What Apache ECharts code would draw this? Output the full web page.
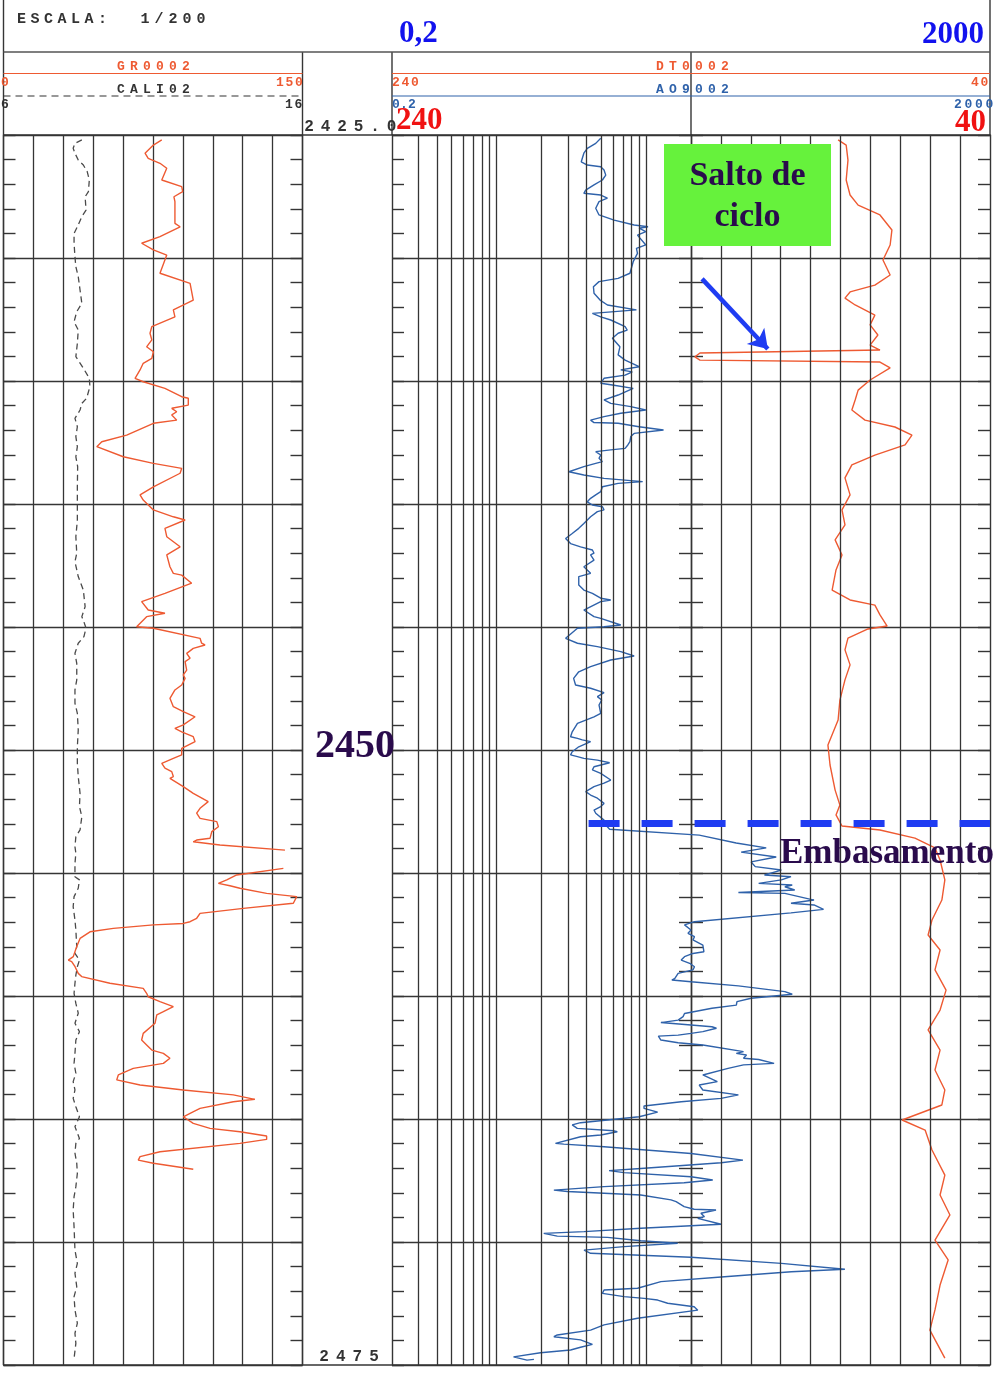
<!DOCTYPE html>
<html>
<head>
<meta charset="utf-8">
<title>Perfil de pozo</title>
<script src="https://cdn.jsdelivr.net/npm/echarts@6/dist/echarts.min.js"></script>
<style>
  html, body { margin: 0; padding: 0; background: #ffffff; }
  #chart { width: 1000px; height: 1376px; }
</style>
</head>
<body>
<div id="chart"></div>
<script>
// ---- Depth window (m) ----
const depthTop = 2425;
const depthBase = 2475;

// ---- Curve scales ----
const grScale = [0, 150];       // GR, API
const caliScale = [6, 16];      // CALI, in
const resScale = [0.2, 2000];   // AO90, ohm.m (log)
const dtScale = [240, 40];      // DT, us/ft

// ---- Curves: [depth m, reading] ----
const grLog = [
  [2425.20,79.4],[2425.41,75.2],[2425.74,71.0],[2425.95,72.6],[2426.15,78.5],[2426.35,81.9],[2426.83,79.4],[2427.10,89.4],
  [2427.30,89.9],[2427.51,85.5],[2427.71,86.0],[2428.59,86.0],[2428.73,88.6],[2429.13,78.5],[2429.40,69.3],[2429.67,75.2],
  [2429.88,81.9],[2430.62,78.5],[2431.03,93.6],[2431.71,95.2],[2432.11,85.2],[2432.39,86.0],[2432.79,74.4],[2433.06,73.5],
  [2433.33,74.4],[2433.61,71.8],[2433.81,75.2],[2434.08,74.4],[2434.28,70.1],[2434.55,68.5],[2434.89,66.0],[2435.03,70.1],
  [2435.30,81.0],[2435.64,89.4],[2435.70,92.7],[2435.98,92.7],[2436.11,84.4],[2436.25,86.9],[2436.38,84.4],[2436.59,86.9],
  [2436.72,75.2],[2437.20,61.8],[2437.47,49.3],[2437.67,46.8],[2438.08,60.1],[2438.35,75.2],[2438.55,89.4],[2438.75,88.6],
  [2439.30,75.2],[2439.63,68.5],[2439.84,70.1],[2440.24,75.2],[2440.52,85.2],[2440.65,91.1],[2440.99,81.0],[2441.33,81.9],
  [2441.74,88.6],[2442.07,81.9],[2442.55,83.5],[2442.82,85.2],[2442.89,89.4],[2443.22,94.4],[2443.63,81.0],[2443.97,69.3],
  [2444.31,72.6],[2444.44,81.0],[2444.58,71.8],[2444.99,66.8],[2445.05,75.2],[2445.46,98.6],[2445.66,99.4],[2445.73,101.1],
  [2445.87,95.2],[2446.07,91.9],[2446.27,93.6],[2446.41,91.1],[2446.75,91.9],[2446.95,90.2],[2447.09,91.1],[2447.36,89.4],
  [2447.56,86.0],[2447.90,83.5],[2448.24,85.2],[2448.44,90.2],[2448.65,96.1],[2448.98,90.2],[2449.12,86.0],[2449.26,89.4],
  [2449.46,95.2],[2449.66,96.1],[2449.93,89.4],[2450.20,89.4],[2450.34,85.2],[2450.54,79.4],[2450.74,81.0],[2450.88,84.4],
  [2451.08,85.2],[2451.15,83.5],[2451.49,90.2],[2451.76,95.2],[2452.10,102.7],[2452.37,98.6],[2452.57,96.9],[2452.78,98.6],
  [2452.91,107.0],[2453.12,107.8],[2453.32,104.5],[2453.59,103.6],[2453.66,96.9],[2453.73,95.2],[2453.86,108.6],[2454.07,141.2],
  null,
  [2454.81,140.4],[2455.08,117.0],[2455.28,112.0],[2455.42,107.8],[2455.52,113.6],[2455.62,118.6],[2455.83,132.0],[2455.96,147.1],
  [2456.23,145.4],[2456.44,120.3],[2456.64,98.6],[2456.84,96.9],[2456.98,93.6],[2457.05,90.2],[2457.11,75.2],[2457.25,55.1],
  [2457.39,43.4],[2457.66,38.4],[2458.00,36.7],[2458.40,35.0],[2458.54,32.5],[2458.60,34.2],[2458.81,35.9],[2459.08,37.5],
  [2459.21,39.2],[2459.48,53.4],[2459.69,70.1],[2459.89,71.8],[2460.03,72.6],[2460.23,78.5],[2460.43,85.2],[2460.64,80.2],
  [2460.77,76.9],[2461.11,76.0],[2461.52,70.1],[2461.79,69.3],[2461.99,71.8],[2462.20,74.4],[2462.33,80.2],[2462.53,83.5],
  [2462.74,80.2],[2462.94,65.1],[2463.21,57.6],[2463.41,56.8],[2463.62,68.5],[2463.82,90.2],[2464.02,115.3],[2464.20,126.1],
  [2464.30,115.3],[2464.57,98.6],[2464.77,93.6],[2464.91,90.2],[2465.18,95.2],[2465.38,103.6],[2465.52,118.6],[2465.69,132.0],
  [2465.83,132.0],[2465.99,118.6],[2466.33,78.5],[2466.53,68.5],[2466.67,67.6],[2466.80,75.2],[2467.04,95.2]
];

const caliLog = [
  [2425.20,8.62],[2425.34,8.39],[2425.54,8.33],[2425.74,8.39],[2426.02,8.50],[2426.22,8.67],[2426.49,8.80],[2426.83,8.87],
  [2427.30,8.84],[2427.51,8.73],[2428.05,8.76],[2428.32,8.62],[2428.73,8.47],[2429.00,8.36],[2429.40,8.36],[2429.95,8.39],
  [2430.35,8.42],[2430.76,8.50],[2431.30,8.56],[2431.84,8.62],[2432.18,8.45],[2432.59,8.36],[2432.93,8.50],[2433.47,8.47],
  [2434.01,8.42],[2434.48,8.67],[2434.89,8.87],[2435.23,8.89],[2435.70,8.78],[2435.91,8.62],[2436.18,8.56],[2436.52,8.39],
  [2436.86,8.47],[2437.26,8.42],[2437.67,8.47],[2438.08,8.42],[2438.48,8.48],[2439.30,8.47],[2439.97,8.47],[2440.65,8.47],
  [2441.33,8.42],[2442.00,8.45],[2442.35,8.39],[2442.95,8.50],[2443.50,8.67],[2444.17,8.73],[2444.58,8.62],[2444.72,8.67],
  [2445.05,8.76],[2445.39,8.69],[2445.66,8.50],[2446.07,8.39],[2446.48,8.45],[2447.15,8.45],[2447.56,8.39],[2448.10,8.39],
  [2448.51,8.47],[2449.19,8.50],[2449.87,8.47],[2450.54,8.47],[2451.08,8.50],[2451.76,8.56],[2452.30,8.54],[2452.71,8.62],
  [2453.25,8.56],[2453.52,8.42],[2453.93,8.39],[2454.20,8.42],[2454.61,8.39],[2455.15,8.39],[2455.28,8.54],[2455.62,8.50],
  [2455.96,8.36],[2456.37,8.33],[2456.91,8.39],[2457.32,8.42],[2458.00,8.45],[2458.27,8.39],[2458.54,8.54],[2458.81,8.47],
  [2459.15,8.42],[2459.48,8.39],[2459.89,8.36],[2460.30,8.42],[2460.70,8.50],[2461.11,8.39],[2461.45,8.54],[2461.79,8.42],
  [2462.33,8.39],[2462.74,8.36],[2463.14,8.42],[2463.48,8.33],[2463.82,8.39],[2464.16,8.33],[2464.50,8.42],[2464.91,8.54],
  [2465.31,8.39],[2465.79,8.54],[2465.99,8.42],[2466.39,8.39],[2466.80,8.45],[2467.21,8.47],[2467.75,8.42],[2468.16,8.36],
  [2468.70,8.33],[2469.38,8.36],[2470.33,8.39],[2470.87,8.47],[2471.27,8.39],[2471.82,8.45],[2472.22,8.36],[2472.76,8.39],
  [2473.30,8.47],[2473.71,8.39],[2474.12,8.42],[2474.73,8.36]
];

const ao90Log = [
  [2425.13,4.98],[2425.34,4.61],[2425.54,4.05],[2425.74,3.84],[2426.09,3.69],[2426.22,4.05],[2426.29,4.98],[2426.42,5.24],
  [2426.63,5.38],[2426.83,5.11],[2427.03,4.49],[2427.24,3.95],[2427.37,3.84],[2427.44,4.98],[2427.57,5.52],[2427.71,4.85],
  [2427.98,4.61],[2428.25,4.85],[2428.46,6.12],[2428.66,8.33],[2428.73,10.32],[2428.79,8.99],[2428.93,9.97],[2429.07,8.77],
  [2429.47,9.97],[2429.61,8.63],[2429.81,8.77],[2430.15,8.21],[2430.62,7.81],[2430.83,6.51],[2430.96,4.85],[2431.17,4.45],
  [2431.43,4.49],[2431.71,4.93],[2431.91,5.52],[2432.11,8.63],[2432.25,4.38],[2432.39,4.98],[2432.52,5.81],[2432.79,7.25],
  [2432.93,7.49],[2433.06,6.51],[2433.26,5.96],[2433.61,6.69],[2433.94,6.51],[2434.15,7.25],[2434.42,8.99],[2434.55,6.78],
  [2434.63,8.10],[2434.76,7.25],[2434.89,5.24],[2435.09,4.98],[2435.16,5.96],[2435.30,8.21],[2435.57,6.51],[2435.77,5.24],
  [2435.91,5.81],[2436.04,7.91],[2436.18,9.97],[2436.31,6.78],[2436.45,5.24],[2436.59,4.26],[2436.69,4.49],[2436.72,6.51],
  [2436.86,8.99],[2436.99,13.1],[2437.13,8.33],[2437.26,7.91],[2437.46,7.81],[2437.60,7.56],[2437.74,7.25],[2437.80,5.81],
  [2437.87,4.61],[2438.01,4.98],[2438.14,4.85],[2438.28,5.11],[2438.35,4.61],[2438.48,3.84],[2438.69,3.05],[2438.82,3.84],
  [2438.96,5.24],[2439.09,9.50],[2439.16,6.51],[2439.30,5.11],[2439.50,4.98],[2439.63,4.61],[2439.77,4.26],[2439.91,4.05],
  [2440.04,4.38],[2440.11,5.11],[2440.24,5.24],[2440.31,4.73],[2440.52,4.26],[2440.79,3.84],[2440.99,3.55],[2441.20,3.21],
  [2441.40,2.90],[2441.61,3.13],[2441.74,3.65],[2441.87,4.38],[2442.00,4.49],[2442.07,4.26],[2442.28,4.49],[2442.55,3.84],
  [2442.82,4.26],[2442.95,3.55],[2443.29,3.55],[2443.50,3.84],[2443.63,4.38],[2443.83,4.98],[2443.90,5.81],[2443.97,4.98],
  [2444.31,3.84],[2444.38,3.75],[2444.58,4.49],[2444.65,4.98],[2444.92,6.78],[2444.99,5.24],[2445.05,3.48],[2445.46,2.90],
  [2445.66,3.48],[2445.80,4.73],[2446.00,6.78],[2446.18,8.33],[2446.34,5.81],[2446.61,4.26],[2446.82,3.55],[2447.09,3.28],
  [2447.36,3.38],[2447.49,4.26],[2447.67,5.24],[2447.83,4.73],[2447.97,5.05],[2448.17,4.85],[2448.51,4.98],[2448.65,4.49],
  [2448.92,3.48],[2449.26,3.21],[2449.46,3.13],[2449.53,3.48],[2449.59,3.75],[2449.66,4.26],[2449.87,3.55],[2450.07,3.21],
  [2450.20,3.13],[2450.27,3.48],[2450.34,3.84],[2450.41,4.73],[2450.52,5.71],[2450.68,4.49],[2450.81,4.38],[2450.95,4.98],
  [2451.22,5.81],[2451.35,5.24],[2451.49,4.49],[2451.69,3.95],[2451.83,4.26],[2451.96,4.73],[2452.17,5.24],[2452.30,4.98],
  [2452.44,4.49],[2452.57,4.61],[2452.85,5.24],[2453.05,5.38],[2453.22,5.71],[2453.46,22.7],[2453.78,40.1],[2453.98,63.7],
  [2454.15,43.3],[2454.35,74.3],[2454.55,50.5],[2454.74,53.8],[2454.88,80.4],[2455.08,62.0],[2455.15,93.3],[2455.28,80.4],
  [2455.42,56.7],[2455.49,95.1],[2455.56,84.9],[2455.69,98.8],[2455.79,41.5],[2455.83,84.9],[2456.10,133],[2456.23,93.3],
  [2456.30,133],[2456.48,154],[2456.62,93.3],[2456.98,21.1],[2457.11,18.1],[2457.32,20.0],[2457.45,19.1],[2457.59,21.1],
  [2457.72,20.6],[2457.93,24.0],[2458.20,24.4],[2458.27,20.6],[2458.40,18.1],[2458.54,17.2],[2458.67,19.6],[2458.81,21.1],
  [2458.94,20.6],[2459.08,16.4],[2459.28,15.6],[2459.35,14.9],[2459.42,20.0],[2459.59,41.5],[2459.82,84.9],[2459.93,95.1],
  [2460.09,50.5],[2460.23,40.6],[2460.37,40.2],[2460.50,27.6],[2460.71,18.1],[2460.84,17.7],[2460.98,16.4],[2461.08,12.58],
  [2461.25,27.6],[2461.31,29.6],[2461.45,24.0],[2461.52,20.0],[2461.59,16.4],[2461.63,12.1],[2461.79,12.58],[2461.90,16.4],
  [2461.99,24.0],[2462.26,44.9],[2462.33,40.2],[2462.40,47.0],[2462.53,44.9],[2462.58,56.7],[2462.74,71.9],[2462.80,44.9],
  [2462.94,35.4],[2463.21,24.0],[2463.48,30.0],[2463.62,22.7],[2463.82,24.0],[2464.02,41.5],[2464.16,31.8],[2464.30,17.2],
  [2464.47,9.70],[2464.57,9.70],[2464.72,11.96],[2464.91,9.00],[2465.04,5.52],[2465.15,3.65],[2465.24,3.21],[2465.38,3.47],
  [2465.48,6.11],[2465.52,6.43],[2465.65,4.98],[2465.72,3.65],[2465.99,2.48],[2466.02,2.82],[2466.13,5.24],[2466.40,20.0],
  [2466.67,44.5],[2466.78,31.8],[2467.01,9.23],[2467.10,5.66],[2467.18,7.13],[2467.35,20.0],[2467.48,27.96],[2467.59,18.0],
  [2467.75,5.24],[2467.89,2.42],[2467.95,2.98],[2468.09,9.23],[2468.29,14.7],[2468.36,15.9],[2468.56,18.0],[2468.67,21.0],
  [2468.70,29.4],[2468.83,23.3],[2468.97,24.6],[2469.04,22.2],[2469.28,31.8],[2469.44,9.23],[2469.58,3.85],[2469.65,2.07],
  [2469.76,2.55],[2469.81,5.52],[2469.95,9.23],[2470.05,16.3],[2470.19,7.13],[2470.33,3.85],[2470.46,4.26],[2470.62,20.0],
  [2470.87,80.4],[2471.11,214],[2471.21,93.8],[2471.41,33.5],[2471.61,12.58],[2471.88,8.78],[2471.95,5.24],[2472.09,5.11],
  [2472.22,7.13],[2472.29,9.72],[2472.36,11.96],[2472.49,13.96],[2472.63,21.0],[2472.77,22.2],[2473.10,8.78],[2473.37,5.24],
  [2473.58,4.26],[2473.78,2.55],[2473.85,2.42],[2473.98,3.65],[2474.16,4.38],[2474.28,3.65],[2474.39,3.13],[2474.50,1.97],
  [2474.67,1.30],[2474.80,1.60],[2474.77,1.78]
];

const dtLog = [
  [2425.20,90.8],[2425.41,88.1],[2426.02,87.5],[2426.83,88.1],[2427.44,86.8],[2427.85,84.1],[2428.25,76.8],[2428.86,72.8],
  [2429.47,73.4],[2430.08,75.8],[2430.69,73.4],[2431.10,78.5],[2431.38,86.8],[2431.63,88.5],[2431.91,85.1],[2432.32,78.5],
  [2432.72,80.1],[2433.13,77.5],[2433.54,80.1],[2433.74,76.8],[2433.86,137.0],[2434.02,138.7],[2434.15,137.0],[2434.23,76.8],
  [2434.47,73.4],[2434.96,80.1],[2435.37,84.1],[2435.77,85.1],[2436.18,86.2],[2436.59,81.8],[2436.87,71.8],[2437.20,66.1],
  [2437.60,68.4],[2438.01,78.5],[2438.41,86.2],[2438.94,88.5],[2439.63,86.8],[2440.24,89.5],[2440.85,88.5],[2441.46,91.8],
  [2442.07,89.5],[2442.68,91.5],[2443.50,92.8],[2443.90,86.8],[2444.11,78.5],[2444.51,76.8],[2444.96,74.4],[2445.08,80.8],
  [2445.45,87.5],[2445.93,88.5],[2446.54,86.8],[2447.15,88.5],[2447.97,90.2],[2448.78,90.8],[2449.80,94.2],[2450.61,93.5],
  [2451.63,91.8],[2452.24,90.2],[2452.64,91.5],[2453.09,89.5],[2453.25,76.8],[2453.58,65.1],[2453.98,58.4],[2454.47,56.7],
  [2455.28,55.1],[2456.10,56.1],[2456.91,59.4],[2457.52,60.7],[2458.13,56.7],[2458.94,58.4],[2459.76,54.7],[2460.57,56.7],
  [2461.38,60.7],[2462.20,56.7],[2463.01,58.4],[2463.82,55.1],[2464.43,56.1],[2465.04,69.4],[2465.45,61.7],[2466.26,59.4],
  [2467.28,55.1],[2468.09,56.7],[2468.90,53.4],[2469.92,58.4],[2470.73,54.0],[2471.75,56.7],[2472.76,58.4],[2473.58,60.1],
  [2474.72,55.1]
];

// ---- Chart furniture ----
const resGridValues = [0.3, 0.4, 0.5, 0.6, 0.7, 0.8, 0.9, 1, 2, 3, 4, 5, 6, 7, 8, 9, 10];
const dtGridValues = [130, 120, 110, 100, 90, 80, 70, 60, 50];
const basementDepth = 2452.97;
const basementFrom = 4.13;
const cycleArrow = [[136.3, 2430.85], [114.3, 2433.70]];

// ---- Page geometry (px) ----
const X0 = 3.5, X1 = 302.5, X2 = 392, X3 = 691, X4 = 990;
const Y_TOP = 135, Y_BOT = 1365;

const GRID_COLOR = '#353535';
const RED = '#ee5a32';
const BLUE = '#2f62aa';
const STENCIL = 'bold 13px "Liberation Mono", "DejaVu Sans Mono", monospace';

const toXY = arr => arr.map(p => p === null ? ['-', '-'] : [p[1], p[0]]);

function spaced(str, x, y, pitch, fill, font) {
  const out = [];
  for (let i = 0; i < str.length; i++) {
    if (str[i] === ' ') continue;
    out.push({ type: 'text', x: x + i * pitch, y: y, z: 50,
      style: { text: str[i], fill: fill, font: font || STENCIL, align: 'center', verticalAlign: 'middle' } });
  }
  return out;
}
function hline(x1, x2, y, stroke, w, dash) {
  return { type: 'line', z: 40, shape: { x1: x1, y1: y, x2: x2, y2: y },
    style: { stroke: stroke, lineWidth: w, lineDash: dash || null } };
}
function vline(x, y1, y2, stroke, w) {
  return { type: 'line', z: 40, shape: { x1: x, y1: y1, x2: x, y2: y2 }, style: { stroke: stroke, lineWidth: w } };
}

const tickStyle = { color: GRID_COLOR, width: 1.4 };
function depthAxis(gridIndex, opts) {
  return Object.assign({
    type: 'value', gridIndex: gridIndex, min: depthTop, max: depthBase, inverse: true, interval: 5,
    axisLabel: { show: false },
    axisLine: { show: true, lineStyle: { color: GRID_COLOR, width: 1.4 } },
    axisTick: { show: true, inside: true, length: 12, lineStyle: tickStyle },
    minorTick: { show: true, splitNumber: 5, length: 12, lineStyle: tickStyle },
    splitLine: { show: false }
  }, opts);
}

const plainLine = (color, width, type) => ({ color: color, width: width, type: type || 'solid' });

const graphics = [].concat(
  // header frame
  [
    vline(X0, 0, Y_TOP, GRID_COLOR, 1.4),
    vline(X4, 0, Y_TOP, GRID_COLOR, 1.4),
    vline(X1, 52, Y_TOP, GRID_COLOR, 1.4),
    vline(X2, 52, Y_TOP, GRID_COLOR, 1.4),
    vline(X3, 52, Y_TOP, GRID_COLOR, 1.4),
    hline(X0, X4, 52, '#555', 1.4),
    hline(X0, X4, Y_TOP, GRID_COLOR, 1.6),
    hline(X0, X4, Y_BOT, GRID_COLOR, 1.6),
    hline(X0, X1, 73.5, RED, 1.2),
    hline(X0, X1, 96, '#333', 1.2, [7, 5]),
    hline(X2, X4, 73.5, RED, 1.2),
    hline(X2, X4, 96, BLUE, 1.2)
  ],
  spaced('ESCALA:', 21.5, 19, 13.5, '#333', 'bold 15px "Liberation Mono", monospace'),
  spaced('1/200', 145, 19, 14, '#333', 'bold 15px "Liberation Mono", monospace'),
  spaced('GR0002', 121, 67, 13, RED),
  spaced('CALI02', 121, 89.5, 13, '#333'),
  spaced('0', 5, 83, 10, RED),
  spaced('150', 280, 83, 9.5, RED),
  spaced('6', 5, 105, 10, '#333'),
  spaced('16', 289, 105, 9.5, '#333'),
  spaced('DT0002', 660, 67, 13, RED),
  spaced('AO9002', 660, 89.5, 13, BLUE),
  spaced('240', 396, 83, 9.5, RED),
  spaced('40', 975, 83, 9.5, RED),
  spaced('0.2', 396, 105, 8, BLUE),
  spaced('2000', 958, 105, 10.5, BLUE),
  spaced('2425.0', 309, 127, 16.5, '#333', 'bold 16px "Liberation Mono", monospace'),
  spaced('2475', 324, 1356.5, 16.7, '#333', 'bold 16px "Liberation Mono", monospace'),
  [
    { type: 'text', x: 399, y: 34, z: 60, style: { text: '0,2', fill: '#1212ee', font: 'bold 31px "Liberation Serif", serif', align: 'left', verticalAlign: 'middle' } },
    { type: 'text', x: 984, y: 35, z: 60, style: { text: '2000', fill: '#1212ee', font: 'bold 31px "Liberation Serif", serif', align: 'right', verticalAlign: 'middle' } },
    { type: 'text', x: 396, y: 121, z: 60, style: { text: '240', fill: '#f01212', font: 'bold 31px "Liberation Serif", serif', align: 'left', verticalAlign: 'middle' } },
    { type: 'text', x: 986, y: 123, z: 60, style: { text: '40', fill: '#f01212', font: 'bold 31px "Liberation Serif", serif', align: 'right', verticalAlign: 'middle' } },
    { type: 'text', x: 355, y: 747, z: 60, style: { text: '2450', fill: '#2a0b4c', font: 'bold 40px "Liberation Serif", serif', align: 'center', verticalAlign: 'middle' } },
    { type: 'rect', z: 55, shape: { x: 664, y: 144, width: 167, height: 102 }, style: { fill: '#66f23c' } },
    { type: 'text', x: 747.5, y: 176, z: 60, style: { text: 'Salto de', fill: '#2a0b4c', font: 'bold 34px "Liberation Serif", serif', align: 'center', verticalAlign: 'middle' } },
    { type: 'text', x: 747.5, y: 217, z: 60, style: { text: 'ciclo', fill: '#2a0b4c', font: 'bold 34px "Liberation Serif", serif', align: 'center', verticalAlign: 'middle' } },
    { type: 'text', x: 780, y: 854, z: 60, style: { text: 'Embasamento', fill: '#2a0b4c', font: 'bold 35px "Liberation Serif", serif', align: 'left', verticalAlign: 'middle' } }
  ]
);

const option = {
  animation: false,
  backgroundColor: '#ffffff',
  grid: [
    { left: X0, top: Y_TOP, width: X1 - X0, height: Y_BOT - Y_TOP },   // GR / CALI track
    { left: X2, top: Y_TOP, width: X4 - X2, height: Y_BOT - Y_TOP },   // resistivity + sonic
    { left: X2, top: Y_TOP, width: X3 - X2, height: Y_BOT - Y_TOP },   // track 2 frame
    { left: X3, top: Y_TOP, width: X4 - X3, height: Y_BOT - Y_TOP }    // track 3 frame
  ],
  xAxis: [
    { type: 'value', gridIndex: 0, min: grScale[0], max: grScale[1], interval: 15,
      axisLine: { show: false }, axisTick: { show: false }, axisLabel: { show: false },
      splitLine: { show: true, lineStyle: { color: GRID_COLOR, width: 1.3 } } },
    { type: 'value', gridIndex: 0, min: caliScale[0], max: caliScale[1], show: false },
    { type: 'log', gridIndex: 1, logBase: 10, min: resScale[0], max: resScale[1], show: false },
    { type: 'value', gridIndex: 1, min: dtScale[1], max: dtScale[0], inverse: true, show: false },
    { type: 'value', gridIndex: 2, show: false },
    { type: 'value', gridIndex: 3, show: false }
  ],
  yAxis: [
    depthAxis(0, { splitLine: { show: true, lineStyle: { color: GRID_COLOR, width: 1.4 } } }),
    depthAxis(0, { position: 'right' }),
    depthAxis(1, { axisLine: { show: false }, axisTick: { show: false }, minorTick: { show: false },
      splitLine: { show: true, lineStyle: { color: GRID_COLOR, width: 1.4 } } }),
    depthAxis(2, {}),
    depthAxis(2, { position: 'right' }),
    depthAxis(3, {}),
    depthAxis(3, { position: 'right' })
  ],
  series: [
    { // log grid of track 2
      type: 'line', xAxisIndex: 2, yAxisIndex: 2, data: [], silent: true, z: 1,
      markLine: { silent: true, symbol: 'none', label: { show: false }, animation: false,
        lineStyle: plainLine(GRID_COLOR, 1.3), emphasis: { disabled: true },
        data: resGridValues.map(v => ({ xAxis: v })) }
    },
    { // linear grid of track 3
      type: 'line', xAxisIndex: 3, yAxisIndex: 2, data: [], silent: true, z: 1,
      markLine: { silent: true, symbol: 'none', label: { show: false }, animation: false,
        lineStyle: plainLine(GRID_COLOR, 1.3), emphasis: { disabled: true },
        data: dtGridValues.map(v => ({ xAxis: v })) }
    },
    { name: 'CALI', type: 'line', xAxisIndex: 1, yAxisIndex: 0, data: toXY(caliLog), z: 3,
      showSymbol: false, silent: true, lineStyle: { color: '#4a4a4a', width: 1.3, type: [6, 4] } },
    { name: 'GR', type: 'line', xAxisIndex: 0, yAxisIndex: 0, data: toXY(grLog), z: 3,
      showSymbol: false, silent: true, connectNulls: false, lineStyle: { color: RED, width: 1.4 } },
    { name: 'AO90', type: 'line', xAxisIndex: 2, yAxisIndex: 2, data: toXY(ao90Log), z: 3,
      showSymbol: false, silent: true, lineStyle: { color: BLUE, width: 1.4 },
      markLine: { silent: true, symbol: 'none', label: { show: false }, animation: false, z: 5,
        lineStyle: { color: '#1f3cf2', width: 7, type: [31, 22] }, emphasis: { disabled: true },
        data: [[{ coord: [basementFrom, basementDepth] }, { coord: [resScale[1], basementDepth] }]] } },
    { name: 'DT', type: 'line', xAxisIndex: 3, yAxisIndex: 2, data: toXY(dtLog), z: 3,
      showSymbol: false, silent: true, lineStyle: { color: RED, width: 1.4 },
      markLine: { silent: true, symbol: ['none', 'arrow'], symbolSize: 18, label: { show: false }, animation: false, z: 6,
        itemStyle: { color: '#1f3cf2' },
        lineStyle: { color: '#1f3cf2', width: 4.5, type: 'solid' }, emphasis: { disabled: true },
        data: [[{ coord: cycleArrow[0] }, { coord: cycleArrow[1] }]] } }
  ],
  graphic: { elements: graphics }
};

const chart = echarts.init(document.getElementById('chart'), null, { renderer: 'canvas' });
chart.setOption(option);
</script>
</body>
</html>
